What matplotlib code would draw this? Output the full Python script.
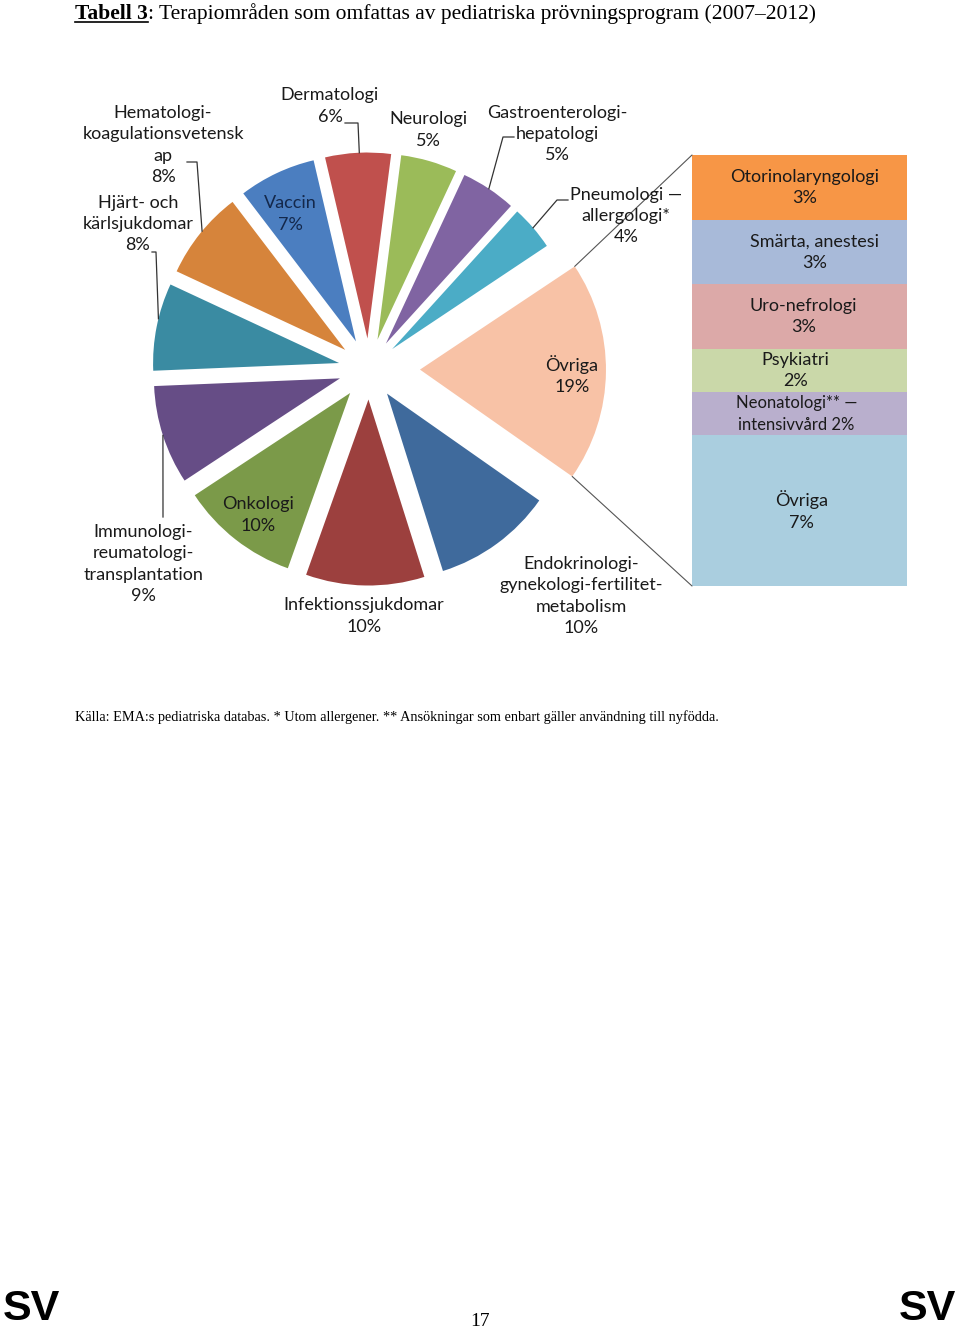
import math
import matplotlib
matplotlib.use('Agg')
import matplotlib.pyplot as plt
from matplotlib.patches import ConnectionPatch
from matplotlib.lines import Line2D
import numpy as np

# pie slices, clockwise starting at the pulled-out "Övriga" slice (shares in %)
pieNames = ['Övriga', 'Endokrinologi', 'Infektionssjukdomar', 'Onkologi', 'Immunologi',
            'Hjärt- och kärlsjukdomar', 'Hematologi', 'Vaccin', 'Dermatologi', 'Neurologi',
            'Gastroenterologi', 'Pneumologi']
pieValues = [19.1, 10.4, 10.3, 10.3, 8.6, 7.6, 7.7, 6.7, 5.7, 4.9, 4.8, 3.9]
pieColors = ['#F8C2A6', '#3F6A9C', '#9C403E', '#7B9A49', '#664D86', '#3A8BA2',
             '#D6843B', '#4B7EC0', '#C0504D', '#9BBB59', '#8064A2', '#4BACC6']
pieText = ['Övriga\n19%',
           'Endokrinologi-\ngynekologi-fertilitet-\nmetabolism\n10%',
           'Infektionssjukdomar\n10%',
           'Onkologi\n10%',
           'Immunologi-\nreumatologi-\ntransplantation\n9%',
           'Hjärt- och\nkärlsjukdomar\n8%',
           'Hematologi-\nkoagulationsvetensk\nap\n8%',
           'Vaccin\n7%',
           'Dermatologi\n6%',
           'Neurologi\n5%',
           'Gastroenterologi-\nhepatologi\n5%',
           'Pneumologi —\nallergologi*\n4%']

# breakdown of "Övriga", top to bottom
barNames = ['Otorinolaryngologi', 'Smärta, anestesi', 'Uro-nefrologi', 'Psykiatri',
            'Neonatologi** —\nintensivvård', 'Övriga']
barValues = [3, 3, 3, 2, 2, 7]
barColors = ['#F79646', '#A8BAD9', '#DCA9A8', '#CAD8A9', '#B9AFCD', '#AACEDF']

title_bold = 'Tabell 3'
title_rest = ': Terapiområden som omfattas av pediatriska prövningsprogram (2007–2012)'
footnote = ('Källa: EMA:s pediatriska databas. * Utom allergener. '
            '** Ansökningar som enbart gäller användning till nyfödda.')

W, H = 960, 1330
LBL = dict(family=['Lato', 'DejaVu Sans'], fontsize=13, color='#1a1a1a',
           ha='center', va='center', linespacing=1.4)
SERIF = ['Liberation Serif', 'DejaVu Serif']

fig = plt.figure(figsize=(W / 100, H / 100), dpi=100)
fig.patch.set_facecolor('white')

# pie axes, 1 unit = R pixels
cx, cy, R = 369, 369, 186
half = 1.3
pax = fig.add_axes([(cx - half * R) / W, (H - cy - half * R) / H, 2 * half * R / W, 2 * half * R / H])
explode = [0.274] + [0.164] * (len(pieValues) - 1)
wedges, _ = pax.pie(pieValues, colors=pieColors, explode=explode, counterclock=False,
                    startangle=33.7, wedgeprops=dict(linewidth=0))
pax.set_xlim(-half, half)
pax.set_ylim(-half, half)
pax.set_aspect('equal')
pax.axis('off')

# stacked bar for the breakdown
bx0, bx1, by0, by1 = 692, 907, 155, 586
bax = fig.add_axes([bx0 / W, (H - by1) / H, (bx1 - bx0) / W, (by1 - by0) / H])
total = sum(barValues)
bottoms = total - np.cumsum(barValues)
bax.bar(0, barValues, bottom=bottoms, width=1.0, color=barColors, linewidth=0)
bax.set_xlim(-0.5, 0.5)
bax.set_ylim(0, total)
bax.axis('off')

# overlay in pixel coordinates for text and leader lines
bg = fig.add_axes([0, 0, 1, 1])
bg.set_xlim(0, W)
bg.set_ylim(H, 0)
bg.axis('off')
bg.set_zorder(5)


def toPix(x, y):
    return cx + x * R, cy - y * R


def arcPoint(w, t):
    a = math.radians(w.theta1 + t * (w.theta2 - w.theta1))
    return toPix(w.center[0] + w.r * math.cos(a), w.center[1] + w.r * math.sin(a))


# label positions (pixel centres) for each slice
labelPos = {0: (572, 375), 1: (581, 596), 2: (364, 616), 3: (258, 515), 4: (143, 564),
            5: (138, 224), 6: (163, 145), 7: (290, 214), 8: (330, 106), 9: (428, 130),
            10: (557, 134), 11: (626, 216)}
for i, txt in enumerate(pieText):
    x, y = labelPos[i]
    kw = dict(LBL)
    if i == 7:
        kw['color'] = '#14284B'
    bg.text(x, y, txt, **kw)

# leader lines: label side points, then a point on the wedge arc
leaders = {8: ([(345, 123), (358, 123)], 0.48),
           10: ([(514, 137), (503, 137)], 0.5),
           11: ([(568, 200), (557, 200)], 0.5),
           6: ([(187, 162), (197, 162)], 0.47),
           5: ([(152, 252), (156, 252)], 0.41),
           4: ([(163, 517)], 0.5)}
for i, (pts, t) in leaders.items():
    ax_, ay_ = arcPoint(wedges[i], t)
    xs = [p[0] for p in pts] + [ax_]
    ys = [p[1] for p in pts] + [ay_]
    bg.plot(xs, ys, color='#333333', lw=0.9)

# bar segment labels
barOffsets = [5, 15, 4, -4, -3, 2]
for name, v, b, dx in zip(barNames, barValues, bottoms, barOffsets):
    if '\n' in name:
        s = name + ' %d%%' % v
        bax.text(dx / (bx1 - bx0), b + v / 2, s, **dict(LBL, fontsize=12, linespacing=1.45))
    else:
        bax.text(dx / (bx1 - bx0), b + v / 2, '%s\n%d%%' % (name, v), **LBL)

# connector lines from the Övriga slice to the bar
ov = wedges[0]
for ang, yb in ((ov.theta2, total), (ov.theta1, 0)):
    a = math.radians(ang)
    p = (ov.center[0] + ov.r * math.cos(a), ov.center[1] + ov.r * math.sin(a))
    con = ConnectionPatch(xyA=p, coordsA=pax.transData, xyB=(-0.5, yb), coordsB=bax.transData,
                          color='#555555', lw=0.8)
    fig.add_artist(con)

# page title with bold underlined prefix
renderer = fig.canvas.get_renderer()
tb = fig.text(75 / W, 1 - 19 / H, title_bold, family=SERIF, fontsize=15.5, weight='bold', va='baseline')
bb = tb.get_window_extent(renderer)
fig.text(bb.x1 / W, 1 - 19 / H, title_rest, family=SERIF, fontsize=15.5, va='baseline')
fig.add_artist(Line2D([bb.x0 / W, bb.x1 / W], [1 - 21.5 / H, 1 - 21.5 / H],
                      transform=fig.transFigure, color='black', lw=1.2))

fig.text(75 / W, 1 - 721 / H, footnote, family=SERIF, fontsize=10.3, va='baseline')
fig.text(480 / W, 1 - 1326 / H, '17', family=SERIF, fontsize=14, ha='center', va='baseline')
SV = dict(family=['Liberation Sans Narrow', 'Liberation Sans', 'DejaVu Sans'],
          fontsize=31, weight='bold', va='baseline')
fig.text(3 / W, 1 - 1320 / H, 'SV', ha='left', **SV)
fig.text(956 / W, 1 - 1320 / H, 'SV', ha='right', **SV)

fig.savefig('out.png', dpi=100, facecolor='white')
